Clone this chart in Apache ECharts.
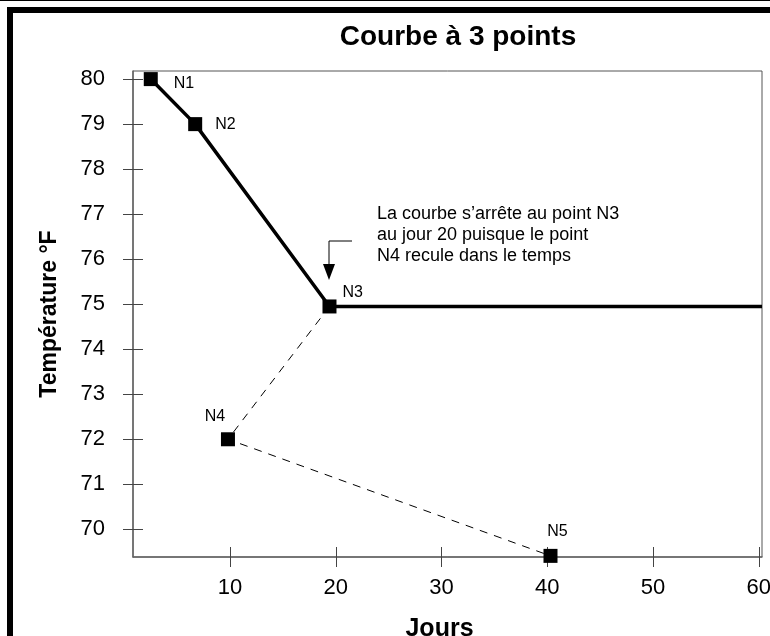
<!DOCTYPE html>
<html>
<head>
<meta charset="utf-8">
<script src="https://cdn.jsdelivr.net/npm/echarts@6/dist/echarts.min.js"></script>
<style>
    html, body { margin: 0; padding: 0; background: #fff; }
    #chart { width: 770px; height: 636px; }
</style>
</head>
<body>
<div id="chart"></div>
<script>
    // points N1..N5
    const pointNames = ['N1', 'N2', 'N3', 'N4', 'N5']
    const days = [2.5, 6.7, 19.4, 9.8, 40.3]
    const temps = [80, 79, 74.95, 72, 69.41]
    // la courbe va de N1 a N3 puis reste plate jusqu'a la fin
    const curveIdx = [0, 1, 2]
    const dashIdx = [2, 3, 4]
    const curveEndDay = 60.3
    const xTicks = [10, 20, 30, 40, 50, 60]
    const yTicks = [70, 71, 72, 73, 74, 75, 76, 77, 78, 79, 80]
    const xRange = [0.82, 60.3]
    const yRange = [69.385, 80.18]
    const note = ['La courbe s\u2019arr\u00eate au point N3', 'au jour 20 puisque le point', 'N4 recule dans le temps']

    const font = 'Arial, "Liberation Sans", Helvetica, sans-serif'

    const curveData = curveIdx.map(i => [days[i], temps[i]])
    curveData.push([curveEndDay, temps[2]])
    const dashData = dashIdx.map(i => [days[i], temps[i]])

    const labelPos = [
        { position: 'right', distance: 16, offset: [0, 4] },
        { position: 'right', distance: 13, offset: [0, 0] },
        { position: 'right', distance: 6, offset: [0, -14] },
        { position: 'top', distance: 8, offset: [-13, 0] },
        { position: 'top', distance: 9, offset: [7, 0] },
    ]
    const pointData = pointNames.map((n, i) => ({
        name: n,
        value: [days[i], temps[i]],
        label: labelPos[i]
    }))

    const chart = echarts.init(document.getElementById('chart'))
    chart.setOption({
        animation: false,
        backgroundColor: '#fff',
        title: {
            text: 'Courbe \u00e0 3 points',
            left: 453,
            top: 18,
            textAlign: 'center',
            textStyle: { fontFamily: font, fontSize: 28, fontWeight: 'bold', color: '#000' }
        },
        grid: {
            left: 133, top: 71, right: 8, bottom: 79,
            outerBoundsMode: 'none',
            containLabel: false,
            show: true,
            borderColor: '#555',
            borderWidth: 1
        },
        xAxis: [{
            type: 'value',
            min: xRange[0], max: xRange[1],
            name: 'Jours',
            nameLocation: 'middle',
            nameGap: 60,
            nameTextStyle: { fontFamily: font, fontSize: 25, fontWeight: 'bold', color: '#000', padding: [0, 16, 0, 0] },
            splitLine: { show: false },
            axisLine: { lineStyle: { color: '#666', width: 1.5 } },
            axisTick: { customValues: xTicks, length: 10, lineStyle: { color: '#444' } },
            axisLabel: { customValues: xTicks, margin: 20, fontFamily: font, fontSize: 22, color: '#000' }
        }, {
            type: 'value',
            position: 'bottom',
            min: xRange[0], max: xRange[1],
            splitLine: { show: false },
            axisLine: { show: false },
            axisTick: { customValues: xTicks, inside: true, length: 10, lineStyle: { color: '#444' } },
            axisLabel: { show: false }
        }],
        yAxis: [{
            type: 'value',
            min: yRange[0], max: yRange[1],
            name: 'Temp\u00e9rature \u00b0F',
            nameLocation: 'middle',
            nameRotate: 90,
            nameGap: 72,
            nameTextStyle: { fontFamily: font, fontSize: 23, fontWeight: 'bold', color: '#000' },
            splitLine: { show: false },
            axisLine: { show: true, lineStyle: { color: '#666', width: 1.5 } },
            axisTick: { show: true, customValues: yTicks, length: 10, lineStyle: { color: '#444' } },
            axisLabel: { customValues: yTicks, margin: 28, fontFamily: font, fontSize: 22, color: '#000' }
        }, {
            type: 'value',
            position: 'left',
            min: yRange[0], max: yRange[1],
            splitLine: { show: false },
            axisLine: { show: false },
            axisTick: { show: true, customValues: yTicks, inside: true, length: 10, lineStyle: { color: '#444' } },
            axisLabel: { show: false }
        }],
        series: [{
            type: 'line',
            data: curveData,
            symbol: 'none',
            lineStyle: { color: '#000', width: 3.5 },
            z: 3
        }, {
            type: 'line',
            data: dashData,
            symbol: 'none',
            lineStyle: { color: '#000', width: 1, type: [8, 7] },
            z: 2
        }, {
            type: 'scatter',
            data: pointData,
            symbol: 'rect',
            symbolSize: 14,
            clip: false,
            itemStyle: { color: '#000', opacity: 1 },
            label: {
                show: true,
                formatter: '{b}',
                fontFamily: font,
                fontSize: 16,
                color: '#000'
            },
            z: 4
        }],
        graphic: [
            // cadre
            { type: 'rect', shape: { x: 10, y: 10, width: 900, height: 800 }, style: { fill: 'none', stroke: '#000', lineWidth: 6 }, silent: true },
            { type: 'line', shape: { x1: 0, y1: 0.5, x2: 770, y2: 0.5 }, style: { stroke: '#000', lineWidth: 1 } },
            // note et fleche
            {
                type: 'text', left: 377, top: 204,
                style: { text: note.join('\n'), font: '18px ' + font, lineHeight: 21, fill: '#000' }
            },
            { type: 'polyline', shape: { points: [[352, 241], [329, 241], [329, 265]] }, style: { stroke: '#000', lineWidth: 1, fill: 'none' } },
            { type: 'polygon', shape: { points: [[323, 264], [335, 264], [329, 280]] }, style: { fill: '#000' } }
        ]
    })
</script>
</body>
</html>
